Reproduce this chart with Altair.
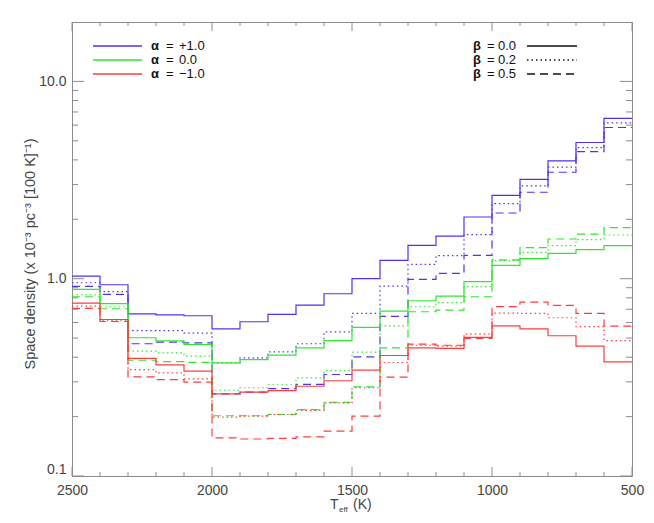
import altair as alt
import pandas as pd

# ---------------- data ----------------
teff_edges = [2500, 2400, 2300, 2200, 2100, 2000, 1900, 1800, 1700, 1600,
              1500, 1400, 1300, 1200, 1100, 1000, 900, 800, 700, 600, 500]

alpha_labels = ["+1.0", "0.0", "\u22121.0"]
beta_labels = ["0.0", "0.2", "0.5"]

# alpha = +1.0
a_p1_b00 = [1.031, 0.932, 0.664, 0.656, 0.649, 0.557, 0.605, 0.659, 0.734, 0.839,
            1.000, 1.238, 1.476, 1.645, 2.054, 2.647, 3.19, 3.954, 4.90, 6.49]
a_p1_b02 = [0.954, 0.859, 0.546, 0.545, 0.530, 0.375, 0.397, 0.426, 0.468, 0.537,
            0.667, 0.917, 1.182, 1.308, 1.672, 2.403, 2.951, 3.673, 4.62, 6.16]
a_p1_b05 = [0.914, 0.832, 0.468, 0.477, 0.473, 0.261, 0.266, 0.277, 0.291, 0.327,
            0.402, 0.644, 0.992, 1.064, 1.313, 2.153, 2.742, 3.464, 4.41, 5.84]
# alpha = 0.0
a_00_b00 = [0.882, 0.747, 0.502, 0.484, 0.464, 0.374, 0.389, 0.410, 0.446, 0.486,
            0.566, 0.685, 0.773, 0.816, 0.966, 1.168, 1.263, 1.344, 1.404, 1.471]
a_00_b02 = [0.829, 0.721, 0.429, 0.421, 0.405, 0.272, 0.280, 0.290, 0.314, 0.342,
            0.424, 0.577, 0.721, 0.756, 0.911, 1.234, 1.360, 1.471, 1.578, 1.665]
a_00_b05 = [0.810, 0.704, 0.386, 0.380, 0.377, 0.202, 0.202, 0.205, 0.217, 0.236,
            0.283, 0.446, 0.680, 0.693, 0.810, 1.246, 1.437, 1.589, 1.684, 1.815]
# alpha = -1.0
a_m1_b00 = [0.752, 0.621, 0.395, 0.366, 0.340, 0.261, 0.266, 0.271, 0.285, 0.304,
            0.344, 0.408, 0.446, 0.443, 0.504, 0.577, 0.557, 0.514, 0.455, 0.379]
a_m1_b02 = [0.726, 0.612, 0.346, 0.333, 0.311, 0.199, 0.201, 0.205, 0.215, 0.235,
            0.280, 0.376, 0.460, 0.455, 0.524, 0.669, 0.667, 0.634, 0.571, 0.486]
a_m1_b05 = [0.707, 0.607, 0.318, 0.308, 0.299, 0.156, 0.154, 0.155, 0.158, 0.169,
            0.201, 0.317, 0.466, 0.460, 0.498, 0.722, 0.761, 0.732, 0.667, 0.575]

series = [
    ("+1.0", "0.0", a_p1_b00), ("+1.0", "0.2", a_p1_b02), ("+1.0", "0.5", a_p1_b05),
    ("0.0", "0.0", a_00_b00), ("0.0", "0.2", a_00_b02), ("0.0", "0.5", a_00_b05),
    ("\u22121.0", "0.0", a_m1_b00), ("\u22121.0", "0.2", a_m1_b02), ("\u22121.0", "0.5", a_m1_b05),
]

y_major = [0.1, 1.0, 10.0]
y_minor = [0.2, 0.3, 0.4, 0.5, 0.6, 0.7, 0.8, 0.9, 2, 3, 4, 5, 6, 7, 8, 9]
x_major = [2500, 2000, 1500, 1000, 500]
x_minor = [t for t in range(600, 2500, 100) if t % 500 != 0]

# ---------------- styles ----------------
colors = ["#4f33ec", "#2ee82e", "#ff3c3c"]
dashes = [[1, 0], [1.5, 3], [8, 5]]
FONT = "Liberation Sans"
W, H = 560, 454
frame = "#8c8c8c"
axis_col = "#444"

rows = []
for a, b, vals in series:
    name = f"a{a}_b{b}"
    for i, v in enumerate(vals):
        rows.append(dict(series=name, alpha=a, beta=b, teff=teff_edges[i], dens=v, idx=i))
    rows.append(dict(series=name, alpha=a, beta=b, teff=teff_edges[-1], dens=vals[-1], idx=len(vals)))
df = pd.DataFrame(rows)

x_scale = alt.Scale(domain=[2500, 500], nice=False, zero=False)
y_scale = alt.Scale(type="log", domain=[0.1, 20], nice=False)
x_axis = alt.Axis(values=x_major, format="d", title=None, ticks=False, tickSize=0,
                  domain=False, grid=False, labelPadding=7, labelFlush=False,
                  labelOverlap=False, labelBound=False)
y_axis = alt.Axis(values=y_major, format=".1f", title=None, ticks=False, tickSize=0,
                  domain=False, grid=False, labelPadding=6, labelFlush=True,
                  labelOverlap=False, labelBound=False)

lines = alt.Chart(df).mark_line(interpolate="step-after", strokeWidth=1.2, clip=True).encode(
    x=alt.X("teff:Q", scale=x_scale, axis=x_axis),
    y=alt.Y("dens:Q", scale=y_scale, axis=y_axis),
    color=alt.Color("alpha:N", scale=alt.Scale(domain=alpha_labels, range=colors), legend=None),
    strokeDash=alt.StrokeDash("beta:N", scale=alt.Scale(domain=beta_labels, range=dashes), legend=None),
    detail="series:N",
    order="idx:Q",
)

layers = [lines]

# inward ticks on all four sides
def ytick(vals, length):
    d = pd.DataFrame({"dens": vals})
    base = alt.Chart(d).mark_rule(color=frame, strokeWidth=1)
    left = base.encode(y=alt.Y("dens:Q", scale=y_scale, axis=y_axis), x=alt.value(0), x2=alt.value(length))
    right = base.encode(y=alt.Y("dens:Q", scale=y_scale, axis=y_axis), x=alt.value(W - length), x2=alt.value(W))
    return [left, right]

def xtick(vals, length):
    d = pd.DataFrame({"teff": vals})
    base = alt.Chart(d).mark_rule(color=frame, strokeWidth=1)
    bottom = base.encode(x=alt.X("teff:Q", scale=x_scale, axis=x_axis), y=alt.value(H - length), y2=alt.value(H))
    top = base.encode(x=alt.X("teff:Q", scale=x_scale, axis=x_axis), y=alt.value(0), y2=alt.value(length))
    return [bottom, top]

layers += ytick(y_major, 12) + ytick(y_minor, 6) + xtick(x_major, 9) + xtick(x_minor, 4)

# custom legends
def txt(s, x, y, size=13, weight="normal", align="left", color="#111", angle=None):
    kw = dict(text=s, font=FONT, fontSize=size, fontWeight=weight, align=align,
              baseline="middle", color=color)
    if angle is not None:
        kw["angle"] = angle
    return alt.Chart(pd.DataFrame({"k": [0]})).mark_text(**kw).encode(
        x=alt.value(x), y=alt.value(y))

def seg(x1, x2, y, color, dash):
    return alt.Chart(pd.DataFrame({"k": [0]})).mark_rule(
        color=color, strokeDash=dash, strokeWidth=1.3).encode(
        x=alt.value(x1), x2=alt.value(x2), y=alt.value(y))

leg_y = [24, 38, 52]
for i in range(3):
    layers.append(seg(21, 70, leg_y[i], colors[i], [1, 0]))
    layers.append(txt("\u03b1", 79, leg_y[i], weight="bold"))
    layers.append(txt("=", 94, leg_y[i]))
    layers.append(txt(alpha_labels[i], 107, leg_y[i]))
    layers.append(txt("\u03b2", 401, leg_y[i], weight="bold"))
    layers.append(txt("=", 415, leg_y[i]))
    layers.append(txt(beta_labels[i], 426, leg_y[i]))
    layers.append(seg(455, 505, leg_y[i], "#111", dashes[i]))

# axis titles
layers.append(txt("T", 258, 483, size=14, color=axis_col))
layers.append(txt("eff", 267, 488, size=8, color=axis_col))
layers.append(txt("(K)", 281, 483, size=14, color=axis_col))
layers.append(txt("Space density (x 10\u207b\u00b3 pc\u207b\u00b3 [100 K]\u207b\u00b9)", -41, 232,
                  size=14.5, align="center", color=axis_col, angle=270))

chart = alt.layer(*layers).properties(
    width=W, height=H,
    autosize=alt.AutoSizeParams(type="none"),
    padding={"left": 64, "top": 14, "right": 14, "bottom": 39},
).configure_view(stroke=frame, strokeWidth=1).configure_axis(
    labelFont=FONT, labelFontSize=14, labelColor=axis_col,
)

chart.save("out.html", embed_options={"renderer": "svg", "actions": False})
